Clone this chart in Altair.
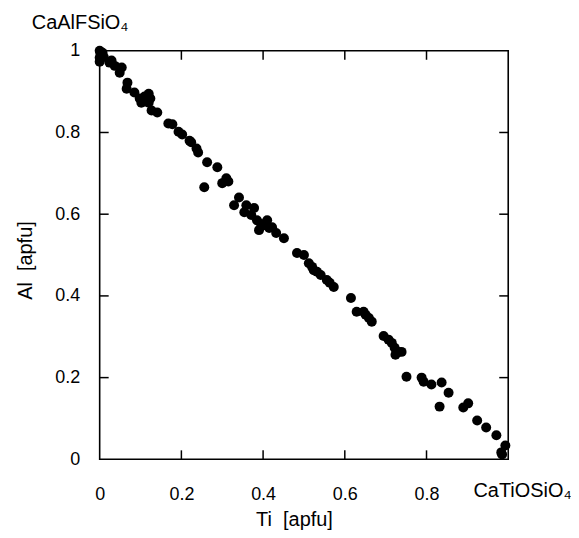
import altair as alt
import pandas as pd

# Ti and Al (apfu)
ti = [0.000, 0.002, 0.000, 0.007, 0.000, 0.010, 0.029, 0.037, 0.054, 0.049,
      0.024, 0.068, 0.066, 0.085, 0.098, 0.120, 0.120, 0.102, 0.127, 0.141,
      0.110, 0.124, 0.168, 0.178, 0.193, 0.202, 0.220, 0.224, 0.237, 0.241,
      0.263, 0.288, 0.310, 0.300, 0.315, 0.256, 0.341, 0.329, 0.359, 0.378,
      0.354, 0.371, 0.385, 0.410, 0.402, 0.422, 0.390, 0.415, 0.432, 0.451,
      0.395, 0.483, 0.500, 0.512, 0.520, 0.524, 0.532, 0.541, 0.556, 0.563,
      0.573, 0.615, 0.629, 0.646, 0.651, 0.659, 0.666, 0.695, 0.707, 0.715,
      0.722, 0.724, 0.732, 0.739, 0.751, 0.788, 0.793, 0.812, 0.837, 0.854,
      0.832, 0.890, 0.902, 0.924, 0.946, 0.971, 0.993, 0.983, 0.985]
al = [1.000, 0.993, 0.983, 0.995, 0.973, 0.985, 0.976, 0.963, 0.959, 0.946,
      0.971, 0.922, 0.907, 0.898, 0.883, 0.895, 0.873, 0.873, 0.854, 0.849,
      0.888, 0.883, 0.822, 0.820, 0.802, 0.795, 0.780, 0.776, 0.761, 0.751,
      0.727, 0.715, 0.688, 0.676, 0.680, 0.666, 0.641, 0.622, 0.622, 0.615,
      0.605, 0.598, 0.585, 0.585, 0.573, 0.568, 0.561, 0.566, 0.554, 0.541,
      0.576, 0.505, 0.500, 0.480, 0.471, 0.463, 0.459, 0.451, 0.439, 0.432,
      0.422, 0.395, 0.361, 0.361, 0.354, 0.346, 0.337, 0.302, 0.293, 0.285,
      0.273, 0.256, 0.263, 0.263, 0.202, 0.200, 0.190, 0.183, 0.188, 0.163,
      0.129, 0.127, 0.137, 0.095, 0.078, 0.059, 0.034, 0.017, 0.012]

x_labels = [0, 0.2, 0.4, 0.6, 0.8]
y_labels = [0, 0.2, 0.4, 0.6, 0.8, 1]
tick_values = [0.2, 0.4, 0.6, 0.8]
tick_len = 0.022

x_title = "Ti\u00a0\u00a0[apfu]"
y_title = "Al\u00a0\u00a0[apfu]"
end_labels = ["CaAlFSiO₄", "CaTiOSiO₄"]
end_x = [-0.166, 0.915]
end_y = [1.054, -0.093]

FONT = "Liberation Sans"

df = pd.DataFrame({"Ti": ti, "Al": al})

# inward tick marks on all four sides
rows = []
for v in tick_values:
    rows.append({"Ti": v, "Ti2": v, "Al": 0, "Al2": tick_len})
    rows.append({"Ti": v, "Ti2": v, "Al": 1, "Al2": 1 - tick_len})
    rows.append({"Ti": 0, "Ti2": tick_len, "Al": v, "Al2": v})
    rows.append({"Ti": 1, "Ti2": 1 - tick_len, "Al": v, "Al2": v})
ticks_df = pd.DataFrame(rows)

labels_df = pd.DataFrame({"t": end_labels, "Ti": end_x, "Al": end_y})

xs = alt.Scale(domain=[0, 1], nice=False, zero=False)
ys = alt.Scale(domain=[0, 1], nice=False, zero=False)

xaxis = alt.Axis(values=x_labels, format="~g", title=x_title,
                 labelPadding=26, labelFlush=False, titleX=195, titleY=66,
                 titleBaseline="alphabetic")
yaxis = alt.Axis(values=y_labels, format="~g", title=y_title,
                 labelPadding=20, labelFlush=False, titleX=-68, titleY=210,
                 titleBaseline="alphabetic", titleAngle=-90)

X = alt.X("Ti:Q", scale=xs, axis=xaxis, title=x_title)
Y = alt.Y("Al:Q", scale=ys, axis=yaxis, title=y_title)

points = alt.Chart(df).mark_circle(size=100, color="black", opacity=1).encode(
    x=X, y=Y)

ticks = alt.Chart(ticks_df).mark_rule(color="black", strokeWidth=1.5).encode(
    x=X, x2="Ti2:Q", y=Y, y2="Al2:Q")

texts = alt.Chart(labels_df).mark_text(
    align="left", baseline="alphabetic", font=FONT, fontSize=20, color="black"
).encode(x=X, y=Y, text="t:N")

chart = alt.layer(points, ticks, texts).properties(
    width=410, height=410,
    autosize=alt.AutoSizeParams(type="none"),
    padding={"left": 92, "top": 42, "right": 63, "bottom": 70},
).configure_view(
    stroke="black", strokeWidth=1.6
).configure_axis(
    domain=False, ticks=False, tickSize=0, grid=False,
    labelFont=FONT, labelFontSize=18, labelColor="black",
    titleFont=FONT, titleFontSize=20, titleColor="black", titleFontWeight="normal",
)

chart.save("out.html", embed_options={"renderer": "svg", "actions": False})
